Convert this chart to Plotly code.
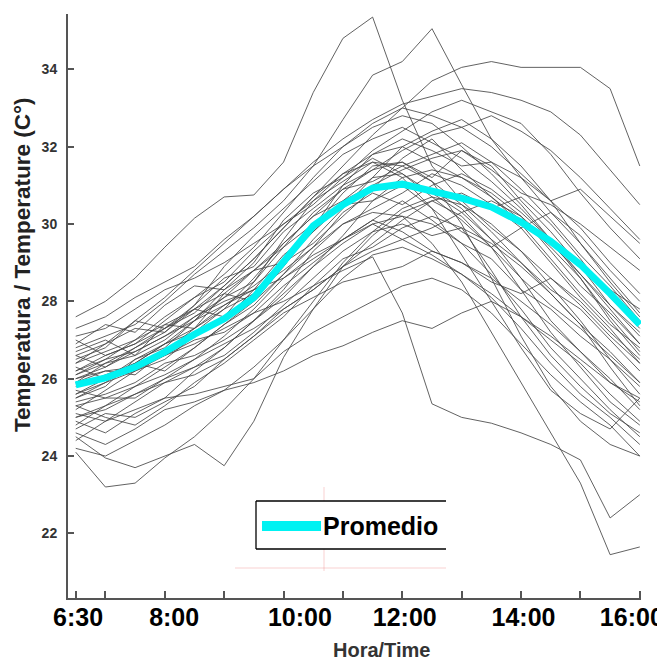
import plotly.graph_objects as go

# Time axis (hours): 6:30 ... 16:00 every 30 min
times = [6.5, 7.0, 7.5, 8.0, 8.5, 9.0, 9.5, 10.0, 10.5, 11.0,
         11.5, 12.0, 12.5, 13.0, 13.5, 14.0, 14.5, 15.0, 15.5, 16.0]

tick_vals = [6.5, 7, 8, 9, 10, 11, 12, 13, 14, 15, 16]
NB = "&nbsp;"
tick_text = [NB * 3 + "6:30", "", NB * 5 + "8:00", "", NB * 7 + "10:00", "",
             NB * 3 + "12:00", "", NB * 3 + "14:00", "", "16:00"]
y_ticks = [22, 24, 26, 28, 30, 32, 34]

promedio = [25.84, 26.02, 26.3, 26.69, 27.15, 27.55, 28.1, 29.05, 29.95, 30.5,
            30.93, 31.03, 30.85, 30.67, 30.44, 30.05, 29.55, 28.95, 28.2, 27.4]

s01 = [27.6, 28.0, 28.6, 29.4, 30.15, 30.7, 30.75, 31.6, 33.4, 34.8, 35.35, 33.2, 31.5, 30.6, 29.9, 29.3, 28.6, 27.9, 27.1, 26.4]
s02 = [26.8, 27.1, 27.4, 28.0, 28.7, 29.3, 29.9, 30.6, 31.5, 32.7, 33.85, 34.2, 35.05, 33.6, 32.2, 31.2, 30.3, 29.5, 28.6, 27.7]
s03 = [26.0, 26.3, 26.8, 27.2, 27.8, 28.4, 29.1, 29.9, 30.7, 31.5, 32.3, 33.0, 33.7, 34.05, 34.2, 34.05, 34.05, 34.05, 33.5, 31.5]
s04 = [25.6, 25.9, 26.2, 26.6, 26.9, 27.3, 27.7, 28.0, 28.4, 28.8, 29.15, 27.7, 25.35, 25.0, 24.85, 24.6, 24.3, 23.9, 22.4, 23.0]
s05 = [25.0, 25.3, 25.8, 26.3, 26.8, 27.4, 28.0, 28.7, 29.4, 30.0, 30.3, 30.2, 29.5, 28.5, 27.2, 25.9, 24.6, 23.3, 21.45, 21.65]
s06 = [24.1, 23.2, 23.3, 23.95, 24.5, 25.2, 26.0, 27.0, 28.0, 29.0, 29.8, 30.4, 30.7, 30.5, 30.0, 29.3, 28.4, 27.5, 26.5, 25.6]
s07 = [24.5, 23.95, 23.7, 24.0, 24.3, 23.75, 24.9, 26.55, 27.8, 28.9, 29.7, 30.3, 30.6, 30.2, 29.4, 28.3, 27.2, 26.3, 25.4, 24.8]
s08 = [26.4, 26.9, 27.5, 28.1, 28.8, 29.5, 30.2, 30.9, 31.6, 32.2, 32.7, 33.1, 33.3, 33.5, 33.4, 33.2, 32.9, 32.3, 31.4, 30.5]
s09 = [27.3, 27.6, 28.1, 28.5, 28.9, 29.6, 30.2, 30.9, 31.5, 32.0, 32.6, 33.0, 32.8, 32.5, 32.0, 31.3, 30.6, 29.9, 29.0, 28.2]
s10 = [26.9, 27.4, 27.2, 27.9, 28.4, 28.3, 29.0, 30.1, 30.8, 31.2, 31.9, 32.4, 32.9, 33.2, 32.9, 32.6, 31.8, 30.8, 29.9, 29.1]
s11 = [26.5, 26.8, 27.5, 27.3, 27.9, 28.6, 28.9, 29.8, 30.4, 31.0, 31.4, 31.9, 32.3, 32.5, 32.8, 32.4, 31.9, 31.2, 30.4, 29.6]
s12 = [26.2, 26.6, 26.9, 27.5, 28.1, 28.7, 29.4, 30.3, 31.2, 32.0, 32.5, 32.8, 32.6, 32.0, 31.3, 30.5, 29.6, 28.7, 27.8, 26.9]
s13 = [25.9, 26.4, 26.6, 27.0, 27.6, 28.1, 28.5, 29.6, 30.6, 31.3, 31.8, 32.2, 31.9, 31.5, 31.6, 31.2, 30.6, 30.9, 30.2, 29.5]
s14 = [25.5, 25.8, 26.5, 26.9, 27.2, 27.8, 28.2, 28.9, 29.9, 30.8, 31.5, 31.6, 31.2, 31.9, 31.5, 30.6, 29.8, 28.9, 27.9, 27.1]
s15 = [26.7, 27.0, 26.6, 27.4, 27.8, 27.6, 28.5, 29.4, 30.3, 30.9, 31.1, 31.5, 31.8, 32.1, 31.6, 30.9, 30.1, 29.2, 28.4, 27.5]
s16 = [25.2, 25.7, 26.2, 26.5, 27.1, 27.5, 28.3, 29.2, 29.8, 30.6, 31.2, 31.3, 30.8, 30.3, 29.6, 29.0, 28.2, 27.4, 26.7, 25.9]
s17 = [26.3, 26.0, 26.4, 26.9, 27.3, 28.2, 28.8, 29.0, 29.5, 30.2, 30.9, 31.7, 32.2, 31.4, 30.7, 30.1, 29.4, 28.6, 27.6, 26.7]
s18 = [25.4, 25.6, 25.9, 26.4, 26.6, 27.0, 27.5, 28.3, 29.3, 30.0, 30.4, 30.8, 31.3, 31.0, 30.5, 29.9, 29.0, 28.1, 27.3, 26.4]
s19 = [24.8, 25.3, 25.6, 26.0, 26.5, 27.1, 27.8, 28.6, 29.1, 29.6, 30.1, 30.6, 30.1, 29.5, 28.7, 27.8, 26.8, 26.0, 25.2, 24.5]
s20 = [26.0, 26.2, 26.1, 26.7, 27.3, 27.9, 28.4, 29.0, 29.8, 30.5, 31.0, 31.0, 30.4, 29.8, 29.4, 29.9, 30.3, 29.7, 28.8, 28.0]
s21 = [25.7, 25.5, 25.8, 26.1, 26.5, 26.9, 27.3, 27.8, 28.3, 28.9, 29.5, 30.1, 30.6, 30.8, 30.4, 30.7, 30.0, 29.1, 28.1, 27.3]
s22 = [24.9, 24.6, 25.1, 25.5, 26.2, 26.8, 27.5, 28.2, 28.9, 29.5, 30.0, 29.6, 29.2, 28.7, 28.2, 27.6, 27.1, 26.5, 25.9, 25.4]
s23 = [25.3, 25.0, 24.8, 25.3, 25.9, 26.4, 27.0, 27.6, 28.4, 29.1, 29.4, 29.9, 30.2, 29.9, 28.8, 27.6, 26.6, 25.8, 25.1, 24.6]
s24 = [24.6, 24.3, 24.7, 25.2, 25.4, 25.7, 25.9, 26.2, 26.6, 26.85, 27.2, 27.5, 27.3, 27.7, 28.0, 27.6, 27.0, 26.4, 25.6, 24.9]
s25 = [25.1, 24.9, 25.2, 25.5, 25.6, 25.8, 26.0, 26.7, 27.2, 27.6, 28.0, 28.4, 28.6, 28.3, 27.7, 26.9, 26.1, 25.4, 24.8, 24.0]
s26 = [26.1, 26.5, 27.0, 27.4, 27.3, 27.8, 28.6, 29.5, 30.2, 30.6, 31.0, 31.4, 31.7, 31.9, 31.4, 30.8, 30.5, 30.0, 29.4, 28.8]
s27 = [26.6, 26.3, 26.7, 27.1, 27.6, 28.0, 28.3, 28.8, 29.4, 30.3, 30.8, 30.5, 31.0, 31.3, 30.9, 30.3, 29.6, 28.9, 28.3, 27.8]
s28 = [25.8, 26.1, 26.4, 26.2, 26.8, 27.4, 27.9, 28.7, 29.6, 30.4, 31.2, 32.0, 32.4, 32.7, 32.2, 31.5, 30.6, 29.5, 28.5, 27.6]
s29 = [24.4, 24.9, 25.4, 25.9, 26.3, 26.6, 27.2, 27.9, 28.6, 29.3, 29.8, 30.0, 29.7, 29.9, 29.5, 28.9, 28.2, 27.4, 26.3, 25.3]
s30 = [26.4, 26.7, 27.0, 27.6, 28.1, 28.5, 29.3, 30.0, 30.6, 31.1, 31.6, 31.5, 31.1, 30.5, 29.8, 29.0, 28.3, 27.8, 27.0, 26.2]
s31 = [25.6, 26.0, 26.5, 26.8, 27.5, 28.3, 28.8, 29.4, 30.0, 30.5, 30.6, 31.0, 30.9, 30.4, 29.6, 28.6, 27.5, 26.7, 25.9, 25.5]
s32 = [27.0, 26.6, 26.9, 27.3, 27.8, 28.2, 28.0, 28.9, 29.9, 31.0, 31.8, 32.0, 31.6, 31.2, 30.8, 30.2, 29.3, 28.4, 27.7, 26.9]
s33 = [24.2, 24.0, 24.4, 24.8, 25.3, 25.7, 26.3, 27.0, 27.8, 28.6, 29.2, 29.4, 29.1, 28.7, 28.1, 27.3, 26.4, 25.6, 25.0, 24.3]
s34 = [25.0, 25.2, 25.6, 25.9, 26.1, 26.5, 27.1, 27.7, 28.1, 28.5, 28.7, 28.9, 29.3, 29.0, 28.5, 28.2, 28.6, 28.0, 27.2, 26.5]
s35 = [26.2, 26.5, 26.7, 27.1, 27.5, 27.9, 28.3, 28.6, 29.2, 29.6, 30.0, 30.2, 30.0, 29.5, 29.1, 28.3, 27.8, 27.1, 26.5, 25.8]
s36 = [25.3, 25.5, 25.5, 26.0, 26.3, 26.8, 27.5, 28.1, 28.9, 29.7, 30.6, 31.2, 31.4, 31.2, 30.7, 30.0, 29.1, 28.2, 27.4, 26.8]
s37 = [27.1, 27.3, 27.8, 28.3, 28.6, 29.0, 29.5, 30.0, 30.5, 31.2, 31.7, 31.3, 30.7, 30.1, 29.4, 28.6, 27.9, 27.3, 26.6, 25.9]
s38 = [24.7, 25.1, 25.0, 25.4, 25.8, 26.5, 27.1, 27.8, 28.3, 28.9, 29.3, 29.6, 29.9, 30.3, 30.6, 30.2, 29.5, 28.7, 27.9, 27.2]
s39 = [26.6, 26.9, 27.3, 27.2, 27.9, 28.9, 29.7, 30.4, 31.1, 31.8, 32.2, 32.5, 32.1, 31.7, 31.1, 30.4, 29.6, 28.6, 27.5, 26.6]
s40 = [25.9, 26.2, 26.3, 26.6, 27.0, 27.2, 27.7, 28.4, 29.0, 29.6, 30.1, 29.8, 29.3, 29.0, 28.6, 28.0, 27.4, 26.7, 26.0, 25.2]
s41 = [25.5, 25.9, 26.4, 26.9, 27.5, 28.1, 28.8, 29.5, 30.2, 30.9, 31.4, 31.6, 31.1, 30.0, 28.6, 27.1, 25.8, 24.9, 24.3, 24.0]
s42 = [26.1, 26.4, 26.8, 27.3, 27.7, 28.4, 29.1, 29.9, 30.7, 31.3, 31.6, 31.2, 30.4, 29.2, 28.0, 26.8, 25.7, 25.1, 24.7, 25.5]

series = [s01, s02, s03, s04, s05, s06, s07, s08, s09, s10, s11, s12, s13, s14,
          s15, s16, s17, s18, s19, s20, s21, s22, s23, s24, s25, s26, s27, s28,
          s29, s30, s31, s32, s33, s34, s35, s36, s37, s38, s39, s40, s41, s42]

FONT = "Liberation Sans, Arial, sans-serif"

fig = go.Figure()
for s in series:
    fig.add_trace(go.Scatter(x=times, y=s, mode="lines",
                             line=dict(color="rgba(70,70,70,0.85)", width=1),
                             showlegend=False, hoverinfo="skip"))
fig.add_trace(go.Scatter(x=times, y=promedio, mode="lines", name="Promedio",
                         line=dict(color="#00F2F2", width=7), showlegend=False))

# The page body adds an 8px offset; target plot area (screen px): left 68, right 641, top 14, bottom 598
OFF = 8
W, H = 665, 660
L, T = 68 - OFF, 14 - OFF
R = W - (641 - OFF)
B = H - (598 - OFF)
PW, PH = W - L - R, H - T - B


def px(xs):
    return (xs - OFF - L) / PW


def py(ys):
    return (H - B - (ys - OFF)) / PH


shapes = [
    # faint red guide lines
    dict(type="line", xref="paper", yref="paper", x0=px(324), x1=px(324), y0=py(487), y1=py(571),
         line=dict(color="rgba(235,120,120,0.35)", width=1)),
    dict(type="line", xref="paper", yref="paper", x0=px(235), x1=px(446), y0=py(568), y1=py(568),
         line=dict(color="rgba(235,120,120,0.35)", width=1)),
    # legend box (open on right)
    dict(type="rect", xref="paper", yref="paper", x0=px(256), x1=px(446), y0=py(549), y1=py(501),
         line=dict(width=0), fillcolor="white"),
    dict(type="line", xref="paper", yref="paper", x0=px(256), x1=px(446), y0=py(501), y1=py(501),
         line=dict(color="black", width=1.3)),
    dict(type="line", xref="paper", yref="paper", x0=px(256), x1=px(446), y0=py(549), y1=py(549),
         line=dict(color="black", width=1.3)),
    dict(type="line", xref="paper", yref="paper", x0=px(256), x1=px(256), y0=py(549), y1=py(501),
         line=dict(color="black", width=1.3)),
    dict(type="line", xref="paper", yref="paper", x0=px(262), x1=px(321), y0=py(526), y1=py(526),
         line=dict(color="#00F2F2", width=10)),
]

annotations = [
    dict(text="Promedio", xref="paper", yref="paper", x=px(321), y=py(526),
         xanchor="left", yanchor="middle", showarrow=False,
         font=dict(family=FONT, size=25, color="black", weight="bold")),
    dict(text="Temperatura / Temperature (C°)", xref="paper", yref="paper",
         x=px(22), y=py(265), textangle=-90, xanchor="center", yanchor="middle",
         showarrow=False, font=dict(family=FONT, size=22.5, color="#222", weight="bold")),
    dict(text="Hora/Time", xref="paper", yref="paper", x=px(381), y=py(650),
         xanchor="center", yanchor="middle", showarrow=False,
         font=dict(family=FONT, size=20, color="#333", weight="bold")),
]

fig.update_layout(
    width=W, height=H,
    margin=dict(l=L, r=R, t=T, b=B, autoexpand=False),
    paper_bgcolor="white", plot_bgcolor="white",
    showlegend=False,
    shapes=shapes, annotations=annotations,
    xaxis=dict(range=[6.37, 16.02], tickmode="array", tickvals=tick_vals, ticktext=tick_text,
               showline=True, linecolor="#555", linewidth=2, ticks="inside", ticklen=7,
               tickwidth=1.5, tickcolor="#555", showgrid=False, zeroline=False,
               automargin=False, ticklabeloverflow="allow", ticklabelshift=-8,
               ticklabelstandoff=-4,
               tickfont=dict(family=FONT, size=25, color="black", weight="bold")),
    yaxis=dict(range=[20.33, 35.43], tickmode="array", tickvals=y_ticks,
               showline=True, linecolor="#555", linewidth=2, ticks="inside", ticklen=6,
               tickwidth=1.5, tickcolor="#555", showgrid=False, zeroline=False,
               automargin=False, ticklabelstandoff=6,
               tickfont=dict(family=FONT, size=14, color="#333", weight="bold")),
)

fig.write_html("out.html")
